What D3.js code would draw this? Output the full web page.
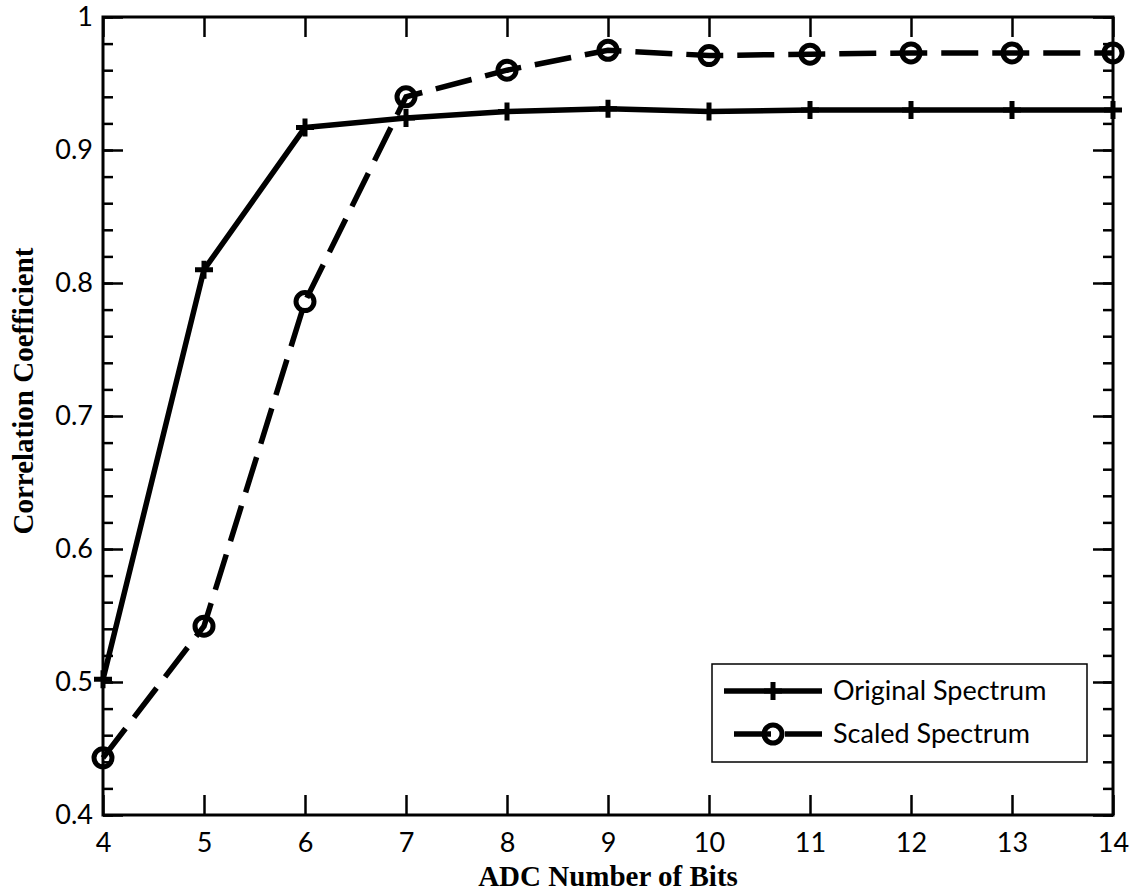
<!DOCTYPE html>
<html>
<head>
<meta charset="utf-8">
<script src="https://cdn.jsdelivr.net/npm/d3@7"></script>
<style>
  html, body { margin: 0; padding: 0; background: #fff; }
  svg { display: block; }
</style>
</head>
<body>
<svg id="chart" width="1133" height="892"></svg>
<script>
// ADC resolution (bits) versus correlation coefficient
const bits = [4, 5, 6, 7, 8, 9, 10, 11, 12, 13, 14];
const originalSpectrum = [0.502, 0.810, 0.917, 0.924, 0.929, 0.931, 0.929, 0.930, 0.930, 0.930, 0.930];
const scaledSpectrum   = [0.443, 0.542, 0.786, 0.940, 0.960, 0.975, 0.971, 0.972, 0.973, 0.973, 0.973];
const seriesNames = ["Original Spectrum", "Scaled Spectrum"];
const xTicks = [4, 5, 6, 7, 8, 9, 10, 11, 12, 13, 14];
const yTicks = [0.4, 0.5, 0.6, 0.7, 0.8, 0.9, 1];
const yTickLabels = ["0.4", "0.5", "0.6", "0.7", "0.8", "0.9", "1"];
const yMinorTicks = d3.range(0.4, 1.0001, 0.02).map(v => +v.toFixed(2));
const xTitle = "ADC Number of Bits";
const yTitle = "Correlation Coefficient";

const svg = d3.select("#chart");
const plotLeft = 103, plotRight = 1113, plotTop = 17, plotBottom = 815;

const x = d3.scaleLinear().domain([4, 14]).range([plotLeft, plotRight]);
const y = d3.scaleLinear().domain([0.4, 1]).range([plotBottom, plotTop]);

const tickFont = "Lato, 'Open Sans', sans-serif";
const lineWidth = 5.5;
const markerWidth = 5;

function styleAxis(g, width) {
  g.select(".domain").remove();
  g.selectAll(".tick line").attr("stroke", "#000").attr("stroke-width", width);
  g.selectAll(".tick text").attr("fill", "#000").style("font-family", tickFont).style("font-size", "27px");
}

// bottom axis, ticks pointing in
svg.append("g").attr("transform", `translate(0,${plotBottom})`)
  .call(d3.axisBottom(x).tickValues(xTicks).tickFormat(d3.format("d")).tickSizeInner(-20).tickSizeOuter(0).tickPadding(18))
  .call(g => styleAxis(g, 2.5));

// top axis, ticks only
svg.append("g").attr("transform", `translate(0,${plotTop})`)
  .call(d3.axisTop(x).tickValues(xTicks).tickFormat("").tickSizeInner(-20).tickSizeOuter(0))
  .call(g => styleAxis(g, 2.5));

// left axis: minor then major
svg.append("g").attr("transform", `translate(${plotLeft},0)`)
  .call(d3.axisLeft(y).tickValues(yMinorTicks).tickFormat("").tickSizeInner(-10).tickSizeOuter(0))
  .call(g => styleAxis(g, 2.5));
svg.append("g").attr("transform", `translate(${plotLeft},0)`)
  .call(d3.axisLeft(y).tickValues(yTicks).tickFormat((d, i) => yTickLabels[i]).tickSizeInner(-20).tickSizeOuter(0).tickPadding(10))
  .call(g => styleAxis(g, 2.5));

// right axis: minor then major
svg.append("g").attr("transform", `translate(${plotRight},0)`)
  .call(d3.axisRight(y).tickValues(yMinorTicks).tickFormat("").tickSizeInner(-10).tickSizeOuter(0))
  .call(g => styleAxis(g, 2.5));
svg.append("g").attr("transform", `translate(${plotRight},0)`)
  .call(d3.axisRight(y).tickValues(yTicks).tickFormat("").tickSizeInner(-20).tickSizeOuter(0))
  .call(g => styleAxis(g, 2.5));

// plot frame
svg.append("rect")
  .attr("x", plotLeft).attr("y", plotTop)
  .attr("width", plotRight - plotLeft).attr("height", plotBottom - plotTop)
  .attr("fill", "none").attr("stroke", "#000").attr("stroke-width", 3);

// axis titles
svg.append("text")
  .attr("x", (plotLeft + plotRight) / 2).attr("y", 886)
  .attr("text-anchor", "middle")
  .style("font-family", "'Liberation Serif', 'Times New Roman', serif")
  .style("font-weight", "bold").style("font-size", "29px")
  .text(xTitle);

svg.append("text")
  .attr("transform", `translate(33,${(plotTop + plotBottom) / 2 - 25}) rotate(-90)`)
  .attr("text-anchor", "middle")
  .style("font-family", "'Liberation Serif', 'Times New Roman', serif")
  .style("font-weight", "bold").style("font-size", "29px")
  .text(yTitle);

const line = d3.line().x(d => x(d[0])).y(d => y(d[1]));
const origPts = bits.map((b, i) => [b, originalSpectrum[i]]);
const scaledPts = bits.map((b, i) => [b, scaledSpectrum[i]]);

const plusPath = "M-9,0H9M0,-9V9";
const dash = "37,14";

// Original Spectrum: solid line with plus markers
svg.append("path").datum(origPts)
  .attr("d", line).attr("fill", "none").attr("stroke", "#000").attr("stroke-width", lineWidth)
  .attr("stroke-linejoin", "round");
svg.append("g").selectAll("path").data(origPts).join("path")
  .attr("transform", d => `translate(${x(d[0])},${y(d[1])})`)
  .attr("d", plusPath).attr("stroke", "#000").attr("stroke-width", markerWidth).attr("fill", "none");

// Scaled Spectrum: dashed line with open circle markers
svg.append("path").datum(scaledPts)
  .attr("d", line).attr("fill", "none").attr("stroke", "#000").attr("stroke-width", lineWidth)
  .attr("stroke-dasharray", dash);
svg.append("g").selectAll("circle").data(scaledPts).join("circle")
  .attr("cx", d => x(d[0])).attr("cy", d => y(d[1])).attr("r", 9)
  .attr("fill", "none").attr("stroke", "#000").attr("stroke-width", markerWidth);

// legend
const lg = svg.append("g");
lg.append("rect").attr("x", 712).attr("y", 664).attr("width", 375).attr("height", 98)
  .attr("fill", "#fff").attr("stroke", "#000").attr("stroke-width", 1.5);
const rows = [691, 734];
seriesNames.forEach((name, i) => {
  const ry = rows[i];
  // sample drawn right-to-left so a dash meets the label side
  const seg = lg.append("line").attr("x1", 822).attr("x2", 724).attr("y1", ry).attr("y2", ry)
    .attr("stroke", "#000").attr("stroke-width", lineWidth);
  if (i === 0) {
    lg.append("path").attr("transform", `translate(773,${ry})`).attr("d", plusPath)
      .attr("stroke", "#000").attr("stroke-width", markerWidth);
  } else {
    seg.attr("stroke-dasharray", dash);
    lg.append("circle").attr("cx", 773).attr("cy", ry).attr("r", 9)
      .attr("fill", "none").attr("stroke", "#000").attr("stroke-width", markerWidth);
  }
  lg.append("text").attr("x", 833).attr("y", ry).attr("dy", "0.35em")
    .style("font-family", tickFont).style("font-size", "27px").text(name);
});
</script>
</body>
</html>
